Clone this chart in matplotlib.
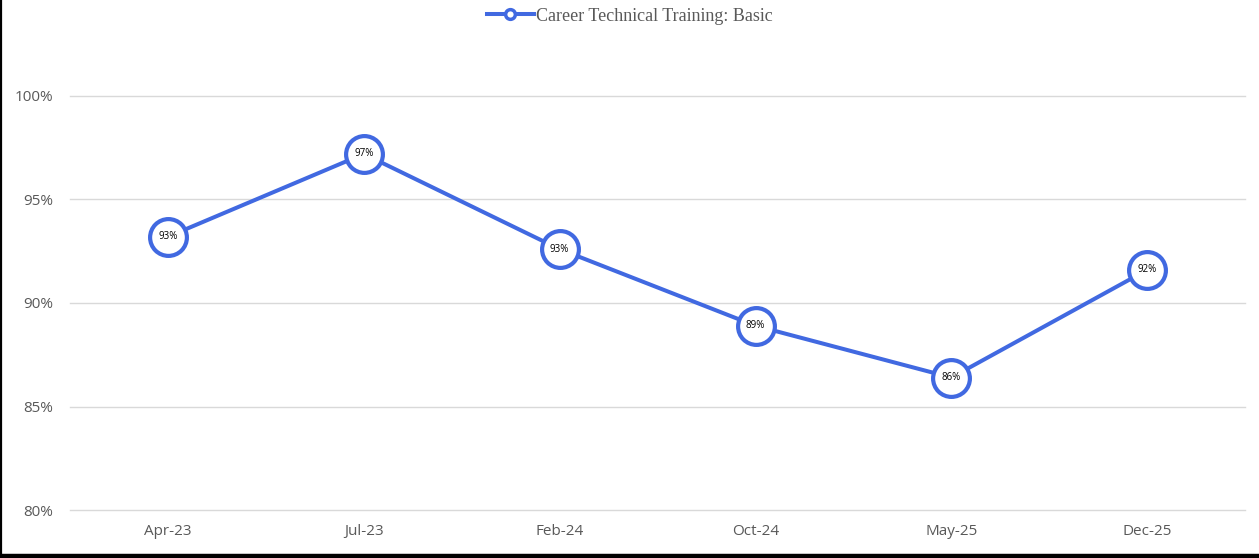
import numpy as np
import matplotlib.pyplot as plt
from matplotlib.lines import Line2D
from matplotlib.ticker import PercentFormatter

# =====================================================
# Data
# =====================================================

periods = ["Apr-23", "Jul-23", "Feb-24", "Oct-24", "May-25", "Dec-25"]
scores = [93.2, 97.2, 92.6, 88.9, 86.4, 91.6]
series_name = "Career Technical Training: Basic"

blue = "#4169E1"
grey = "#595959"

# =====================================================
# Figure
# =====================================================

fig = plt.figure(figsize=(12.59, 5.58), dpi=100)
ax = fig.add_axes([0.0556, 0.086, 0.9334, 0.742])

x = np.arange(len(periods))

ax.plot(
    x, scores,
    color=blue,
    linewidth=2.9,
    marker="o",
    markersize=26.5,
    markerfacecolor="white",
    markeredgecolor=blue,
    markeredgewidth=3.0,
    clip_on=False,
    zorder=3
)

for xi, v in zip(x, scores):
    ax.text(xi, v, f"{v:.0f}%", ha="center", va="center",
            fontsize=7, color="black", zorder=4,
            family="Open Sans")

ax.set_xlim(-0.5, len(periods) - 0.5)
ax.set_ylim(80, 100)
ax.set_yticks([80, 85, 90, 95, 100])
ax.yaxis.set_major_formatter(PercentFormatter(decimals=0))
ax.set_xticks(x)
ax.set_xticklabels(periods)

ax.grid(axis="y", color="#d9d9d9", linewidth=1)
for gl in ax.get_ygridlines():
    gl.set_clip_on(False)
ax.set_axisbelow(True)
for s in ax.spines.values():
    s.set_visible(False)
ax.tick_params(length=0, labelsize=11, colors=grey, pad=12)
for lbl in ax.get_xticklabels() + ax.get_yticklabels():
    lbl.set_family("Open Sans")
ax.tick_params(axis="x", pad=10)

handle = Line2D([], [], color=blue, linewidth=2.9, marker="o",
                markersize=7, markerfacecolor="white",
                markeredgecolor=blue, markeredgewidth=2.5)
fig.legend([handle], [series_name], loc="center",
           bbox_to_anchor=(0.5, 0.971), frameon=False,
           handlelength=2.6, handletextpad=0.1,
           prop={"family": "Liberation Serif", "size": 13},
           labelcolor=grey)

# frame lines (left and bottom)
fig.add_artist(Line2D([0.001, 0.001], [0, 1], color="black",
                      linewidth=1.6, transform=fig.transFigure))
fig.add_artist(Line2D([0, 1], [0.003, 0.003], color="black",
                      linewidth=3.2, transform=fig.transFigure))

fig.savefig("out.png", dpi=100)
plt.close(fig)
